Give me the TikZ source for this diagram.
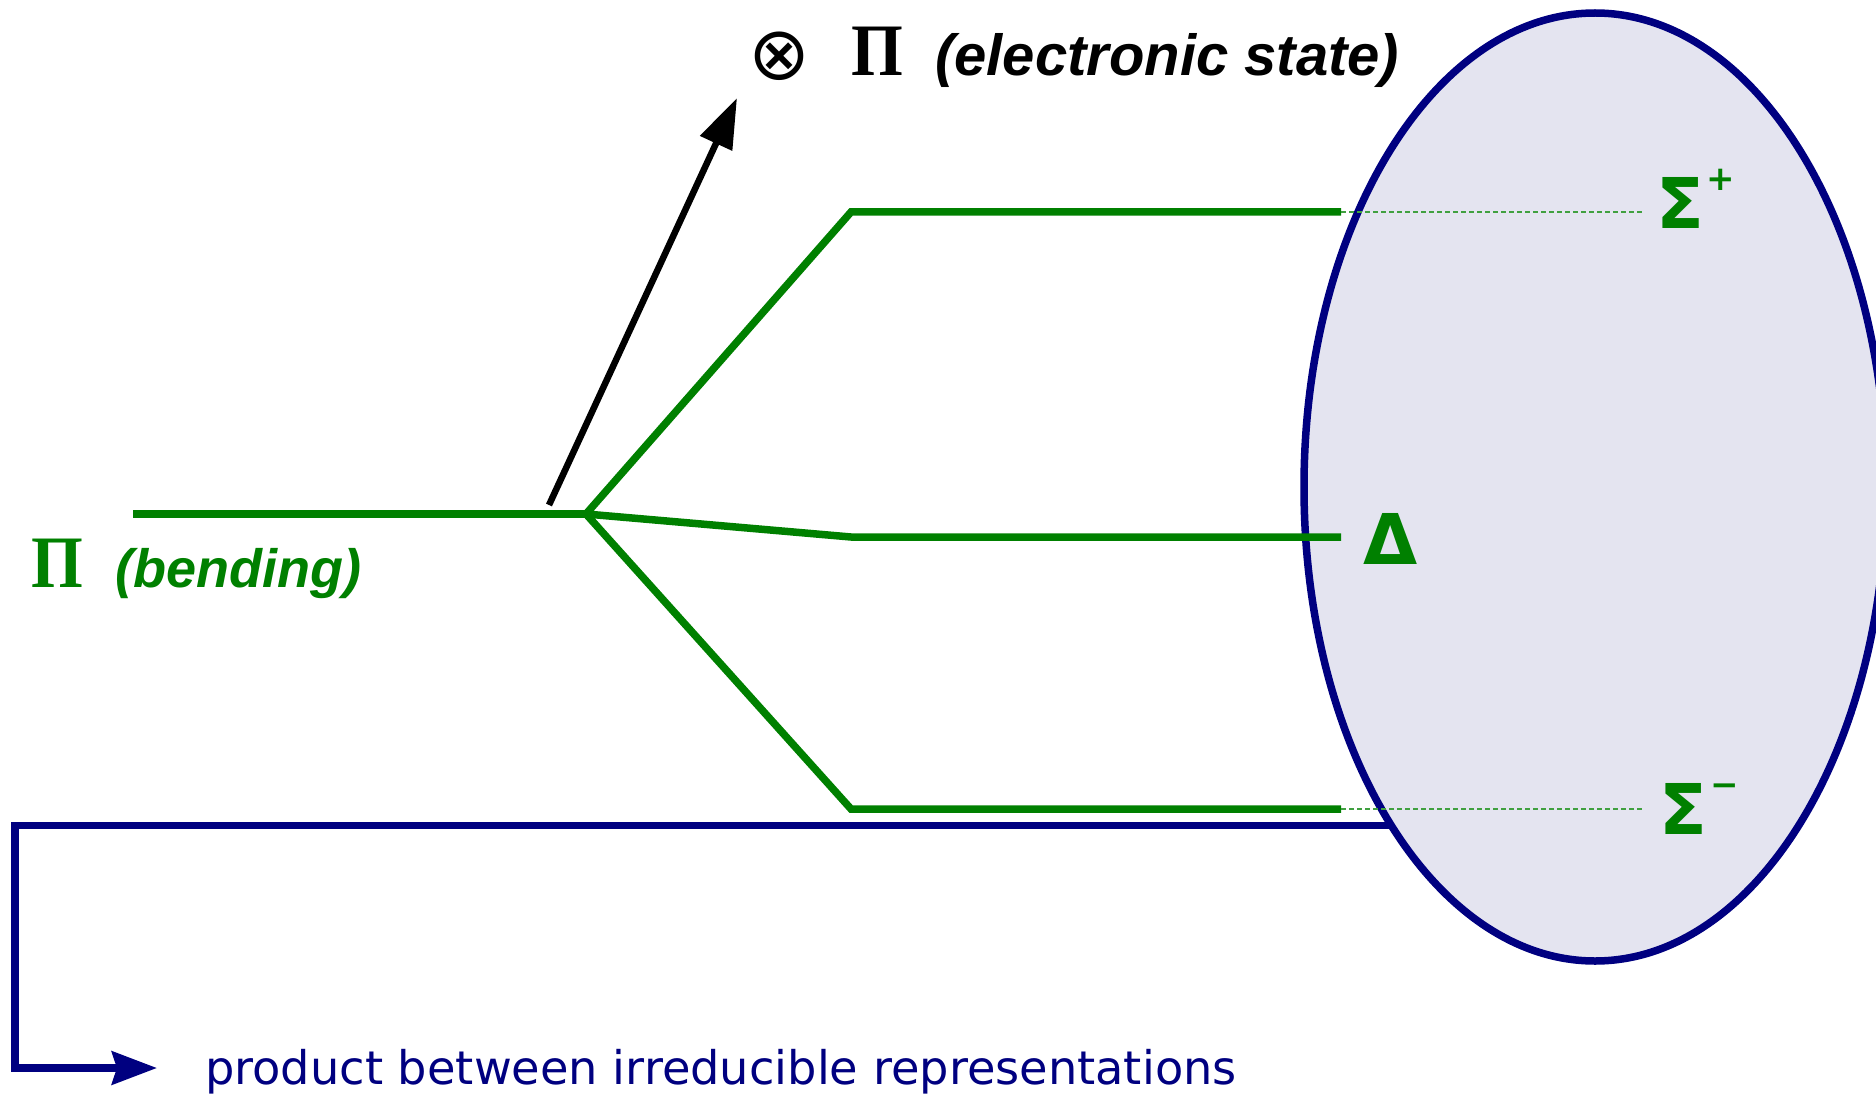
\documentclass[tikz,border=0pt]{standalone}
\usepackage{fontspec}
\usetikzlibrary{arrows.meta,shapes.geometric}
\newfontfamily\grkserif{Liberation Serif}[FakeStretch=0.9]
\newfontfamily\dvsans{DejaVu Sans}
\newfontfamily\notesans{Liberation Sans}
\newcommand\suptextfont{\dvsans\bfseries\fontsize{34}{34}\selectfont}
\definecolor{levelgreen}{RGB}{0,128,0}
\definecolor{repnavy}{RGB}{0,0,128}
\definecolor{cloudfill}{RGB}{228,228,240}
\tikzset{
  levelline/.style={line width=7.5pt, draw=levelgreen},
  guideline/.style={line width=1.2pt, draw=levelgreen!75,
                    dash pattern=on 5pt off 3pt},
  couplearrow/.style={-{Triangle[length=50pt, width=34pt]}, line width=6.5pt,
                      draw=black},
  prodline/.style={-{Stealth[length=45pt, width=33pt, inset=5pt]},
                   line width=7.5pt, draw=repnavy},
  irreplabel/.style={font=\dvsans\bfseries\fontsize{70}{76}\selectfont,
                     text=levelgreen, inner sep=0pt},
  bigpi/.style={font=\grkserif\bfseries\fontsize{74}{80}\selectfont,
                inner sep=0pt},
  notelabel/.style={font=\notesans\bfseries\itshape\fontsize{58}{62}\selectfont,
                    inner sep=0pt},
}
\begin{document}
\begin{tikzpicture}[
      cloudshape/.style={ellipse, minimum width=582pt, minimum height=948pt,
                         inner sep=0pt, outer sep=0pt},
      prodlabel/.style={font=\dvsans\fontsize{46.3}{50}\selectfont,
                        text=repnavy, inner sep=0pt},
      x=1pt, y=-1pt,
    ]
    \useasboundingbox (0,0) rectangle (1876,1094);

    \node[cloudshape, fill=cloudfill, draw=repnavy, line width=7.5pt] (cloud)
      at (1595,487) {};

    \coordinate (piL)    at (133,514);
    \coordinate (split)  at (586,514);
    \coordinate (sigpA)  at (851,212);
    \coordinate (sigpB)  at (1341,212);
    \coordinate (deltaA) at (851,537);
    \coordinate (deltaB) at (1341,537);
    \coordinate (sigmA)  at (851,809);
    \coordinate (sigmB)  at (1341,809);
    \coordinate (armtail) at (549,505);
    \coordinate (armtip)  at (737,98);
    \coordinate (lowturn) at (15,1068);

    % labels
    \node[irreplabel, anchor=base west] (sigplus)  at (1656,229)
      {Σ\kern2pt\raisebox{38pt}{\suptextfont +}};
    \node[irreplabel, anchor=base west] (delta)    at (1363,564) {Δ};
    \node[irreplabel, anchor=base west] (sigminus) at (1659,834)
      {Σ\kern3pt\raisebox{38pt}{\suptextfont −}};
    \node[bigpi, text=levelgreen, anchor=base west] (pibend) at (31,587) {Π};
    \node[notelabel, text=levelgreen, anchor=base west,
          font=\notesans\bfseries\itshape\fontsize{54}{58}\selectfont]
      (bendtext) at (115,587) {(bending)};
    \node[inner sep=0pt, font=\dvsans\fontsize{74}{80}\selectfont] (otimes)
      at (779,56) {⊗};
    \node[bigpi, anchor=base west] (pitop) at (851,76) {Π};
    \node[notelabel, anchor=base west] (elstate) at (935,76)
      {(electronic state)};
    \node[prodlabel, anchor=base west] (prodtext) at (205,1084)
      {product between irreducible representations};

    \draw[prodline, shorten >=48pt] (cloud.239.3) -| (lowturn)
      -- (lowturn -| prodtext.west);

    % levels
    \draw[levelline] (piL) -- (split);
    \draw[levelline] (sigpB) -- (sigpA) -- (split) -- (sigmA) -- (sigmB);
    \draw[levelline] (split) -- (deltaA) -- (deltaB);
    \draw[guideline] (sigpB) -- (sigpB -| sigplus.west) [shorten >=12pt];
    \draw[guideline] (sigmB) -- (sigmB -| sigminus.west) [shorten >=15pt];

    \draw[couplearrow] (armtail) -- (armtip);
  \end{tikzpicture}
\end{document}
